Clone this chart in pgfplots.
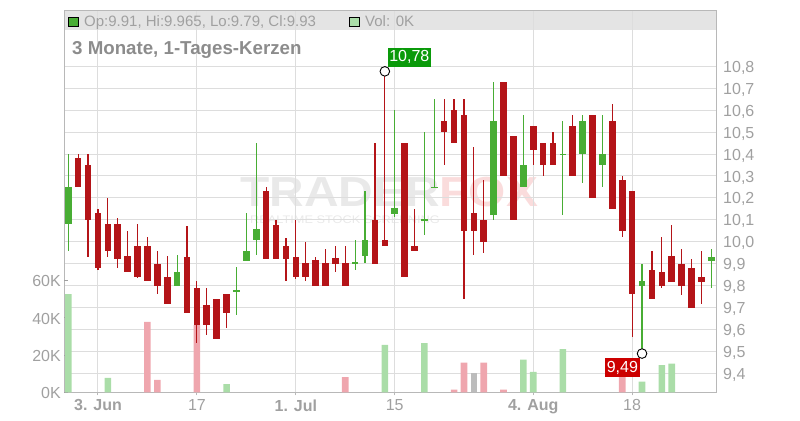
\documentclass[border=0pt]{standalone}
\usepackage{fontspec}
\setmainfont{Liberation Sans}
\usepackage{graphicx}
\usepackage{pgfplots}
\usepackage{pgfplotstable}
\pgfplotsset{compat=1.18}

\definecolor{cred}{HTML}{B41418}
\definecolor{cgreen}{HTML}{48AD34}
\definecolor{vgreen}{HTML}{AADDA8}
\definecolor{vpink}{HTML}{EFA6AE}
\definecolor{vgray}{HTML}{BCBCBC}
\definecolor{cgrid}{HTML}{DDDDDD}
\definecolor{cframe}{HTML}{B8B8B8}
\definecolor{ctext}{HTML}{A0A0A0}
\definecolor{ctitle}{HTML}{8C8C8C}
\definecolor{cband}{HTML}{E4E4E4}
\definecolor{lgreen}{HTML}{0A9A0A}
\definecolor{lred}{HTML}{CC0000}
\definecolor{wmgray}{HTML}{E9E9E9}
\definecolor{wmpink}{HTML}{FADCDC}

% daily candles, i = trading day (3 = 3 Jun), up = 1 for a green candle
\pgfplotstableread{
i  o      h      l      c      up
0  10.08  10.40  9.96   10.25  1
1  10.38  10.40  10.25  10.25  0
2  10.35  10.40  9.93   10.10  0
3  10.13  10.15  9.87   9.88   0
4  10.08  10.20  9.93   9.96   0
5  10.08  10.11  9.88   9.92   0
6  9.935  10.05  9.86   9.86   0
7  9.98   10.08  9.835  9.84   0
8  9.98   10.02  9.82   9.82   0
9  9.90   9.96   9.76   9.80   0
10 9.84   9.935  9.717  9.717  0
11 9.80   9.94   9.80   9.86   1
12 9.93   10.07  9.676  9.676  0
13 9.79   9.82   9.54   9.62   0
14 9.71   9.79   9.576  9.62   0
15 9.74   9.74   9.557  9.557  0
16 9.76   9.76   9.608  9.676  0
17 9.774  9.887  9.667  9.779  1
18 9.91   10.13  9.91   9.96   1
19 10.01  10.45  9.94   10.06  1
20 10.23  10.25  9.92   9.92   0
21 10.075 10.10  9.92   9.92   0
22 9.98   10.015 9.82   9.92   0
23 9.93   10.10  9.83   9.84   0
24 9.905  10.00  9.82   9.84   0
25 9.915  9.93   9.80   9.80   0
26 9.905  9.965  9.80   9.80   0
27 9.924  9.98   9.86   9.90   0
28 9.905  9.98   9.80   9.80   0
29 9.902  10.006 9.87   9.907  1
30 9.935  10.23  9.905  10.006 1
31 10.10  10.45  9.90   9.90   0
32 10.01  10.777 9.98   9.98   0
33 10.126 10.60  10.115 10.152 1
34 10.45  10.45  9.84   9.84   0
35 9.98   10.15  9.96   9.96   0
36 10.097 10.50  10.03  10.102 1
37 10.245 10.65  10.245 10.25  1
38 10.55  10.65  10.35  10.50  0
39 10.60  10.65  10.45  10.45  0
40 10.58  10.65  9.74   10.05  0
41 10.13  10.43  9.94   10.05  0
42 10.10  10.28  9.95   10.00  0
43 10.124 10.73  10.10  10.55  1
44 10.73  10.73  10.30  10.30  0
45 10.48  10.48  10.10  10.10  0
46 10.25  10.58  10.25  10.35  1
47 10.53  10.53  10.35  10.42  0
48 10.45  10.45  10.30  10.35  0
49 10.45  10.50  10.35  10.35  0
50 10.397 10.55  10.12  10.402 1
51 10.53  10.58  10.30  10.30  0
52 10.40  10.58  10.27  10.55  1
53 10.58  10.58  10.20  10.20  0
54 10.35  10.58  10.25  10.40  1
55 10.55  10.63  10.15  10.15  0
56 10.28  10.30  10.02  10.05  0
57 10.23  10.23  9.566  9.76   0
58 9.80   9.90   9.49   9.82   1
59 9.87   9.96   9.74   9.74   0
60 9.86   10.02  9.79   9.80   0
61 9.935  10.075 9.815  9.815  0
62 9.90   9.965  9.757  9.80   0
63 9.88   9.92   9.70   9.70   0
64 9.84   9.96   9.716  9.815  0
65 9.91   9.965  9.79   9.93   1
}\candles

\pgfplotsset{
  chartbase/.style={
    scale only axis, width=652.7bp, height=381.3bp,
    at={(64bp,27.7bp)}, anchor=south west,
    xmin=-0.435, xmax=65.55,
  },
  pricey/.style={ymin=9.3134, ymax=11.0522},
  labelfont/.style={font=\fontsize{16bp}{18bp}\selectfont, text=ctext},
}

\begin{document}
\begin{tikzpicture}[x=1bp,y=1bp]
\path[use as bounding box] (0,0) rectangle (800,420);

% header band and watermark
\fill[cband] (64,390) rectangle (716.7,409);
\node[anchor=base west, inner sep=0pt, font=\bfseries\fontsize{42bp}{44bp}\selectfont]
  at (240,213.3) {\scalebox{1.14}[1]{\textcolor{wmgray}{TRADER}\textcolor{wmpink}{FOX}}};
\node[anchor=base west, inner sep=0pt, text=wmgray, font=\fontsize{11bp}{12bp}\selectfont]
  at (250,197) {\scalebox{1.16}[1]{REALTIME STOCK SCREENING}};

% grid, frame, price ticks, dates
\begin{axis}[chartbase, pricey,
    xtick={3,13,23,33,47,57},
    xticklabels={\textbf{3. Jun},17,\textbf{1. Jul},15,\textbf{4. Aug},18},
    ytick={9.4,9.5,9.6,9.7,9.8,9.9,10,10.1,10.2,10.3,10.4,10.5,10.6,10.7,10.8},
    grid=major, grid style={draw=cgrid, line width=1bp},
    axis line style={draw=cframe, line width=1bp},
    tick align=outside, major tick length=3bp,
    xtick pos=left, ytick pos=right, yticklabel pos=right,
    xtick style={draw=cframe, line width=1bp}, ytick style={draw=none},
    tick label style={labelfont},
    yticklabel style={anchor=west, inner sep=0pt, xshift=3.3bp, yshift=-1.5bp},
    xticklabel style={anchor=north, inner sep=0pt, yshift=-4bp},
    /pgf/number format/use comma,
    /pgf/number format/fixed,
    /pgf/number format/fixed zerofill,
    /pgf/number format/precision=1,
    /pgf/number format/assume math mode=true,
  ]
\end{axis}

% volume
\begin{axis}[chartbase, ymin=0, ymax=204.45,
    hide x axis, axis y line*=left, y axis line style={draw=none},
    ytick={0,20,40,60}, yticklabels={0K,20K,40K,60K},
    tick align=inside, major tick length=4bp,
    ytick style={draw=ctext, line width=1bp},
    yticklabel style={labelfont, anchor=east, inner sep=0pt, xshift=-3bp, yshift=-1bp},
  ]
  \addplot[ybar, bar width=6.6bp, bar shift=0pt, draw=none, fill=vgreen]
    coordinates {(0,52.7) (4,7.7) (16,4.4) (32,25.4) (36,26.4) (46,17.5)
                 (47,11.0) (50,23.2) (58,5.7) (60,14.6) (61,15.4)};
  \addplot[ybar, bar width=6.6bp, bar shift=0pt, draw=none, fill=vpink]
    coordinates {(8,37.7) (9,6.6) (13,36) (28,8.2) (39,1.4) (40,15.9)
                 (42,15.9) (44,1.4) (56,12)};
  \addplot[ybar, bar width=6.6bp, bar shift=0pt, draw=none, fill=vgray]
    coordinates {(41,10.5)};
\end{axis}

% candles
\begin{axis}[chartbase, pricey, hide axis, clip=false]
  % wicks
  \addplot[draw=none, forget plot, restrict expr to domain={\thisrow{up}}{-0.5:0.5},
    error bars/.cd, y dir=both, y explicit, error mark=none,
    error bar style={draw=cred, line width=1.2bp}]
    table[x=i, y expr={(\thisrow{h}+\thisrow{l})/2}, y error expr={(\thisrow{h}-\thisrow{l})/2}] {\candles};
  \addplot[draw=none, forget plot, restrict expr to domain={\thisrow{up}}{0.5:1.5},
    error bars/.cd, y dir=both, y explicit, error mark=none,
    error bar style={draw=cgreen, line width=1.2bp}]
    table[x=i, y expr={(\thisrow{h}+\thisrow{l})/2}, y error expr={(\thisrow{h}-\thisrow{l})/2}] {\candles};
  % bodies
  \addplot[draw=none, forget plot, restrict expr to domain={\thisrow{up}}{-0.5:0.5},
    error bars/.cd, y dir=both, y explicit, error mark=none,
    error bar style={draw=cred, line width=6.6bp}]
    table[x=i, y expr={(\thisrow{o}+\thisrow{c})/2}, y error expr={abs(\thisrow{o}-\thisrow{c})/2}] {\candles};
  \addplot[draw=none, forget plot, restrict expr to domain={\thisrow{up}}{0.5:1.5},
    error bars/.cd, y dir=both, y explicit, error mark=none,
    error bar style={draw=cgreen, line width=6.6bp}]
    table[x=i, y expr={(\thisrow{o}+\thisrow{c})/2}, y error expr={abs(\thisrow{o}-\thisrow{c})/2}] {\candles};

  % high and low markers
  \draw[black, line width=0.9bp, fill=white] (axis cs:32,10.777) circle[radius=4.8bp];
  \node[fill=lgreen, text=white, anchor=south west, inner sep=0pt,
        minimum width=43.4bp, minimum height=18.4bp, font=\fontsize{16bp}{18bp}\selectfont]
    at ([shift={(2.6bp,4.6bp)}]axis cs:32,10.777) {10,78};
  \draw[black, line width=0.9bp, fill=white] (axis cs:58,9.49) circle[radius=4.8bp];
  \node[fill=lred, text=white, anchor=north east, inner sep=0pt,
        minimum width=34.3bp, minimum height=18.3bp, font=\fontsize{16bp}{18bp}\selectfont]
    at ([shift={(-2.3bp,-4.7bp)}]axis cs:58,9.49) {9,49};
\end{axis}

% header texts
\fill[cgreen, draw=black, line width=0.8bp] (68.5,393.3) rectangle (78.5,402.9);
\node[anchor=base west, inner sep=0pt, text=ctext, font=\fontsize{15bp}{18bp}\selectfont]
  at (84,393.3) {Op:9.91, Hi:9.965, Lo:9.79, Cl:9.93};
\fill[vgreen, draw=black, line width=0.8bp] (349.3,393.3) rectangle (359.3,402.9);
\node[anchor=base west, inner sep=0pt, text=ctext, font=\fontsize{15bp}{18bp}\selectfont]
  at (365,393.3) {Vol: 0K};
\node[anchor=base west, inner sep=0pt, text=ctitle, font=\bfseries\fontsize{18.7bp}{22bp}\selectfont]
  at (72,366) {3 Monate, 1-Tages-Kerzen};
\end{tikzpicture}
\end{document}
